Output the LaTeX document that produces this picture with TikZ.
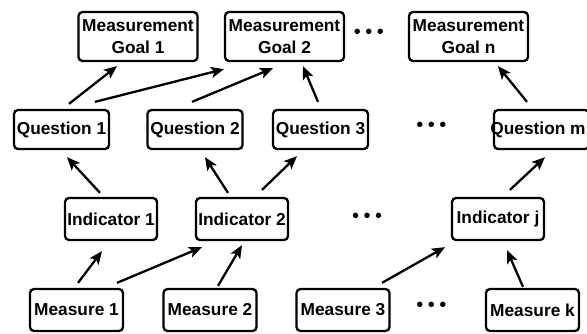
\documentclass[tikz,border=0pt]{standalone}
\usepackage{fontspec}
\setmainfont{Liberation Sans}
\usetikzlibrary{arrows.meta,calc}
\tikzset{
  box/.style={draw, line width=2.3pt, rounded corners=4pt, align=center, inner sep=0pt,
    font=\fontsize{17.3}{21.5}\selectfont\bfseries},
  goal/.style={box, minimum width=119pt, minimum height=49pt},
  quest/.style={box, minimum width=95pt, minimum height=39pt},
  ind/.style={box, minimum width=92pt, minimum height=42pt},
  meas/.style={box, minimum width=93pt, minimum height=42pt},
  dots/.style={inner sep=0pt, font=\fontsize{20}{20}\selectfont},
  arr/.style={line width=2.3pt, -{Stealth[length=13pt,width=11pt,inset=3pt]}}
}
\newcommand{\threedots}{•\hspace{4.5pt}•\hspace{4.5pt}•}
\begin{document}
\begin{tikzpicture}[x=1pt,y=-1pt]
\useasboundingbox (0,0) rectangle (587,333);
% goals
\node[goal] (g1) at (138,36.5) {Measurement\\Goal 1};
\node[goal] (g2) at (284.5,36.5) {Measurement\\Goal 2};
\node[goal] (gn) at (468.5,36.5) {Measurement\\Goal n};
\node[dots] (d1) at (369,34) {\threedots};
% questions
\node[quest] (q1) at (61.5,129.5) {Question 1};
\node[quest] (q2) at (195,129.5) {Question 2};
\node[quest] (q3) at (320.5,129.5) {Question 3};
\node[quest] (qm) at (541.5,129.5) {\hspace*{-7pt}Question m};
\node[dots] (d2) at (431.5,127) {\threedots};
% indicators
\node[ind] (i1) at (111,219) {Indicator 1};
\node[ind] (i2) at (242,219) {Indicator 2};
\node[ind] (ij) at (498,219) {Indicator j};
\node[dots] (d3) at (367,218) {\threedots};
% measures
\node[meas] (m1) at (76.5,310) {Measure 1};
\node[meas] (m2) at (210,310) {Measure 2};
\node[meas] (m3) at (343,310) {Measure 3};
\node[meas] (mk) at (532.5,310) {Measure k};
\node[dots] (d4) at (431.5,307) {\threedots};
% arrows
\draw[arr] ($(q1.north)+(7.5,-5)$) -- ($(g1.south)+(-21,4)$);
\draw[arr] ($(q1.north)+(33.5,-7)$) -- ($(g2.south)+(-60.5,7)$);
\draw[arr] ($(q2.north)+(-3,-7)$) -- ($(g2.south)+(-11.5,6)$);
\draw[arr] ($(q3.north)+(-2.5,-7)$) -- ($(g2.south)+(18.5,4)$);
\draw[arr] ($(qm.north)+(-14.5,-7)$) -- ($(gn.south)+(29.5,4)$);
\draw[arr] ($(i1.north)+(-11,-4)$) -- ($(q1.south)+(5.5,7)$);
\draw[arr] ($(i2.north)+(-14,-4)$) -- ($(q2.south)+(10,7)$);
\draw[arr] ($(i2.north)+(20,-7)$) -- ($(q3.south)+(-23.5,6)$);
\draw[arr] ($(ij.north)+(12,-7)$) -- ($(qm.south)+(3.5,7)$);
\draw[arr] ($(m1.north)+(1.5,-5)$) -- ($(i1.south)+(-9,10)$);
\draw[arr] ($(m1.north)+(40.5,-5)$) -- ($(i2.south)+(-40,6)$);
\draw[arr] ($(m2.north)+(8,-2)$) -- ($(i2.south)+(0,4)$);
\draw[arr] ($(m3.north)+(39,-5)$) -- ($(ij.south)+(-53,6)$);
\draw[arr] ($(mk.north)+(-9.5,-1)$) -- ($(ij.south)+(9,9)$);
\end{tikzpicture}
\end{document}
